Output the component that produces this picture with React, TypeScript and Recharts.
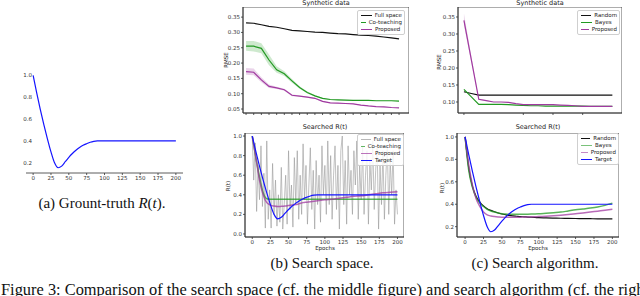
import React from "react";
import { ComposedChart, Line, Area, XAxis, YAxis, ReferenceArea } from "recharts";

const FONT = "'DejaVu Sans', sans-serif";
const SERIF = "'Liberation Serif', 'Times New Roman', serif";

const BLACK = "#111111";
const GREEN = "#229922";
const PURPLE = "#a03aa0";
const BLUE = "#1414ff";
const GRAY = "#9a9a9a";

// epochs for the R(t) curves
const epochsR = [0, 5, 10, 15, 20, 25, 30, 35, 40, 45, 50, 55, 60, 65, 70, 75, 80, 85, 90, 95, 100, 110, 120, 130, 140, 150, 160, 170, 180, 190, 200];
const target = [1.0, 0.84, 0.69, 0.55, 0.42, 0.3, 0.2, 0.155, 0.17, 0.21, 0.25, 0.285, 0.315, 0.34, 0.36, 0.375, 0.388, 0.396, 0.4, 0.4, 0.4, 0.4, 0.4, 0.4, 0.4, 0.4, 0.4, 0.4, 0.4, 0.4, 0.4];
const coteachR = [1.0, 0.78, 0.58, 0.42, 0.36, 0.355, 0.355, 0.355, 0.355, 0.355, 0.355, 0.355, 0.355, 0.355, 0.355, 0.355, 0.355, 0.355, 0.355, 0.355, 0.355, 0.355, 0.355, 0.355, 0.355, 0.355, 0.355, 0.355, 0.355, 0.355, 0.355];
const proposedR = [1.0, 0.78, 0.55, 0.4, 0.32, 0.295, 0.285, 0.28, 0.282, 0.285, 0.29, 0.295, 0.3, 0.31, 0.32, 0.325, 0.33, 0.335, 0.34, 0.345, 0.35, 0.355, 0.365, 0.375, 0.385, 0.39, 0.4, 0.41, 0.42, 0.425, 0.43];
const randomR = [1.0, 0.72, 0.56, 0.47, 0.42, 0.385, 0.36, 0.345, 0.333, 0.322, 0.313, 0.306, 0.3, 0.296, 0.293, 0.29, 0.288, 0.286, 0.284, 0.282, 0.28, 0.278, 0.276, 0.275, 0.274, 0.273, 0.272, 0.271, 0.27, 0.27, 0.27];
const bayesR = [1.0, 0.7, 0.55, 0.46, 0.41, 0.38, 0.355, 0.34, 0.33, 0.322, 0.316, 0.313, 0.311, 0.31, 0.31, 0.31, 0.31, 0.311, 0.312, 0.313, 0.315, 0.32, 0.325, 0.33, 0.34, 0.35, 0.358, 0.366, 0.376, 0.39, 0.41];
const proposedAlgR = [1.0, 0.75, 0.57, 0.45, 0.38, 0.33, 0.305, 0.295, 0.29, 0.287, 0.285, 0.285, 0.285, 0.285, 0.285, 0.285, 0.286, 0.287, 0.288, 0.289, 0.29, 0.293, 0.297, 0.302, 0.308, 0.315, 0.322, 0.33, 0.338, 0.346, 0.355];

// full search space: a new random R(t) every two epochs
const epochs2 = [0, 2, 4, 6, 8, 10, 12, 14, 16, 18, 20, 22, 24, 26, 28, 30, 32, 34, 36, 38, 40, 42, 44, 46, 48, 50, 52, 54, 56, 58, 60, 62, 64, 66, 68, 70, 72, 74, 76, 78, 80, 82, 84, 86, 88, 90, 92, 94, 96, 98, 100, 102, 104, 106, 108, 110, 112, 114, 116, 118, 120, 122, 124, 126, 128, 130, 132, 134, 136, 138, 140, 142, 144, 146, 148, 150, 152, 154, 156, 158, 160, 162, 164, 166, 168, 170, 172, 174, 176, 178, 180, 182, 184, 186, 188, 190, 192, 194, 196, 198, 200];
const fullSpaceR = [1.0, 0.55, 0.93, 0.23, 0.7, 0.35, 0.9, 0.28, 0.62, 0.06, 0.95, 0.15, 0.45, 0.06, 0.72, 0.2, 0.55, 0.08, 0.4, 0.12, 0.68, 0.05, 0.3, 0.6, 0.1, 0.85, 0.25, 0.5, 0.07, 0.78, 0.3, 0.85, 0.15, 0.6, 0.2, 0.92, 0.35, 0.7, 0.1, 0.5, 0.88, 0.25, 0.65, 0.05, 0.75, 0.3, 0.6, 0.12, 0.9, 0.4, 0.7, 0.2, 0.95, 0.3, 0.8, 0.15, 0.6, 0.9, 0.25, 0.7, 0.05, 0.85, 1.0, 0.3, 0.75, 0.1, 0.9, 0.4, 0.65, 0.2, 0.85, 0.5, 0.95, 0.15, 0.7, 0.35, 0.9, 0.2, 0.6, 0.85, 0.1, 0.75, 0.45, 0.95, 0.25, 0.65, 0.9, 0.05, 0.7, 0.3, 0.85, 0.15, 0.6, 0.9, 0.2, 0.75, 0.4, 0.85, 0.1, 0.45, 0.2];

// RMSE on synthetic data
const epochs10 = [0, 10, 20, 30, 40, 50, 60, 70, 80, 90, 100, 110, 120, 130, 140, 150, 160, 170, 180, 190, 200];
const fullSpaceRmse = [0.331, 0.33, 0.325, 0.32, 0.317, 0.312, 0.307, 0.305, 0.303, 0.301, 0.3, 0.298, 0.296, 0.295, 0.293, 0.291, 0.29, 0.288, 0.285, 0.282, 0.279];
const coteachRmse = [0.255, 0.255, 0.248, 0.21, 0.178, 0.165, 0.142, 0.12, 0.104, 0.093, 0.085, 0.081, 0.08, 0.079, 0.078, 0.078, 0.078, 0.077, 0.077, 0.077, 0.076];
const coteachLo = [0.24, 0.238, 0.232, 0.193, 0.168, 0.158, 0.136, 0.116, 0.101, 0.091, 0.083, 0.08, 0.079, 0.078, 0.077, 0.077, 0.077, 0.076, 0.076, 0.076, 0.075];
const coteachHi = [0.272, 0.272, 0.265, 0.228, 0.19, 0.173, 0.148, 0.124, 0.107, 0.096, 0.087, 0.083, 0.081, 0.08, 0.079, 0.079, 0.079, 0.078, 0.078, 0.078, 0.077];
const proposedRmse = [0.172, 0.17, 0.145, 0.124, 0.119, 0.113, 0.095, 0.092, 0.089, 0.085, 0.075, 0.07, 0.069, 0.068, 0.067, 0.063, 0.06, 0.058, 0.057, 0.055, 0.054];
const proposedLo = [0.162, 0.16, 0.137, 0.119, 0.115, 0.11, 0.092, 0.09, 0.087, 0.083, 0.073, 0.069, 0.068, 0.067, 0.066, 0.062, 0.059, 0.057, 0.056, 0.054, 0.053];
const proposedHi = [0.184, 0.182, 0.154, 0.13, 0.123, 0.116, 0.098, 0.094, 0.091, 0.087, 0.077, 0.071, 0.07, 0.069, 0.068, 0.064, 0.061, 0.059, 0.058, 0.056, 0.055];

const randomRmse = [0.13, 0.125, 0.12, 0.12, 0.12, 0.12, 0.12, 0.12, 0.12, 0.12, 0.12, 0.12, 0.12, 0.12, 0.12, 0.12, 0.12, 0.12, 0.12, 0.12, 0.12];
const bayesRmse = [0.137, 0.115, 0.093, 0.093, 0.093, 0.093, 0.092, 0.091, 0.09, 0.089, 0.089, 0.088, 0.088, 0.088, 0.088, 0.088, 0.088, 0.087, 0.087, 0.087, 0.087];
const proposedAlgRmse = [0.34, 0.224, 0.108, 0.104, 0.1, 0.1, 0.099, 0.095, 0.092, 0.092, 0.092, 0.092, 0.092, 0.091, 0.09, 0.089, 0.087, 0.087, 0.087, 0.087, 0.087];
const proposedAlgLo = [0.325, 0.216, 0.106, 0.103, 0.1, 0.1, 0.099, 0.095, 0.092, 0.092, 0.092, 0.092, 0.092, 0.091, 0.09, 0.089, 0.087, 0.087, 0.087, 0.087, 0.087];
const proposedAlgHi = [0.36, 0.234, 0.11, 0.105, 0.1, 0.1, 0.099, 0.095, 0.092, 0.092, 0.092, 0.092, 0.092, 0.091, 0.09, 0.089, 0.087, 0.087, 0.087, 0.087, 0.087];

const epochTicks = [0, 25, 50, 75, 100, 125, 150, 175, 200];

function toRows(xs: number[], ys: number[]) {
  return xs.map((x, i) => ({ x, y: ys[i] }));
}
function toBand(xs: number[], lo: number[], hi: number[]) {
  return xs.map((x, i) => ({ x, band: [lo[i], hi[i]] }));
}

const tickStyle = { fontSize: 5.5, fill: "#333", fontFamily: FONT };

interface PanelProps {
  left: number;
  top: number;
  width: number;
  height: number;
  xDomain: [number, number];
  yDomain: [number, number];
  xTicks: number[];
  yTicks: number[];
  yDigits: number;
  xLabels?: boolean;
  frame?: boolean;
  yShift?: number;
  children: React.ReactNode;
}

function Panel(p: PanelProps) {
  const yw = 22;
  const xh = 12;
  return (
    <div style={{ position: "absolute", left: p.left - yw, top: p.top }}>
      <ComposedChart width={p.width + yw} height={p.height + xh} margin={{ top: 0, right: 0, bottom: 0, left: 0 }}>
        <XAxis
          dataKey="x"
          type="number"
          domain={p.xDomain}
          allowDataOverflow
          ticks={p.xTicks}
          height={xh}
          tickSize={2}
          tickMargin={1}
          stroke="#333"
          strokeWidth={0.8}
          tick={tickStyle}
          tickFormatter={(v: number) => (p.xLabels ? String(v) : "")}
        />
        <YAxis
          type="number"
          domain={p.yDomain}
          allowDataOverflow
          ticks={p.yTicks}
          width={yw}
          tickSize={2}
          tickMargin={1}
          axisLine={!!p.frame}
          tickLine={!!p.frame}
          stroke="#333"
          strokeWidth={0.8}
          tick={{ ...tickStyle, dx: p.yShift || 0 }}
          tickFormatter={(v: number) => v.toFixed(p.yDigits)}
        />
        {p.children}
        {p.frame && (
          <ReferenceArea
            x1={p.xDomain[0]}
            x2={p.xDomain[1]}
            y1={p.yDomain[0]}
            y2={p.yDomain[1]}
            fill="none"
            fillOpacity={0}
            stroke="#333"
            strokeWidth={0.8}
            ifOverflow="visible"
          />
        )}
      </ComposedChart>
    </div>
  );
}

function line(data: { x: number; y: number }[], color: string, width = 1.2, opacity = 1, curve: "monotone" | "linear" = "monotone") {
  return (
    <Line
      data={data}
      dataKey="y"
      type={curve}
      stroke={color}
      strokeWidth={width}
      strokeOpacity={opacity}
      dot={false}
      isAnimationActive={false}
    />
  );
}

function band(data: { x: number; band: number[] }[], color: string) {
  return (
    <Area
      data={data}
      dataKey="band"
      type="linear"
      stroke="none"
      fill={color}
      fillOpacity={0.22}
      dot={false}
      activeDot={false}
      isAnimationActive={false}
    />
  );
}

interface LegendItem {
  label: string;
  color: string;
  opacity?: number;
}

function LegendBox({ left, top, width, items }: { left: number; top: number; width: number; items: LegendItem[] }) {
  return (
    <div
      style={{
        position: "absolute",
        left,
        top,
        width,
        boxSizing: "border-box",
        padding: "1px 2px",
        border: "0.6px solid #cfcfcf",
        borderRadius: 2,
        background: "rgba(255,255,255,0.85)",
        fontFamily: FONT,
        fontSize: 5.5,
        lineHeight: "7px",
        color: "#222",
      }}
    >
      {items.map((it) => (
        <div key={it.label} style={{ display: "flex", alignItems: "center", whiteSpace: "nowrap" }}>
          <span
            style={{
              display: "inline-block",
              width: 11,
              height: 0,
              borderTop: `1.5px solid ${it.color}`,
              opacity: it.opacity ?? 1,
              marginRight: 3,
              marginLeft: 1,
            }}
          />
          {it.label}
        </div>
      ))}
    </div>
  );
}

function Label({ x, y, text, size = 6.5, rotate = false }: { x: number; y: number; text: string; size?: number; rotate?: boolean }) {
  return (
    <div
      style={{
        position: "absolute",
        left: x,
        top: y,
        transform: `translate(-50%, -50%)${rotate ? " rotate(-90deg)" : ""}`,
        fontFamily: FONT,
        fontSize: size,
        color: "#222222",
        whiteSpace: "nowrap",
      }}
    >
      {text}
    </div>
  );
}

function Caption({ x, y, children, size = 15 }: { x: number; y: number; children: React.ReactNode; size?: number }) {
  return (
    <div
      style={{
        position: "absolute",
        left: x,
        top: y,
        transform: "translate(-50%, -50%)",
        fontFamily: SERIF,
        fontSize: size,
        color: "#111",
        whiteSpace: "nowrap",
      }}
    >
      {children}
    </div>
  );
}

export default function App() {
  const rT = toRows(epochsR, target);
  return (
    <div style={{ position: "absolute", left: 0, top: 0, width: 640, height: 296, background: "#fff", overflow: "hidden" }}>
      {/* (a) ground truth */}
      <Panel left={26} top={71} width={157} height={102} xDomain={[-10, 210]} yDomain={[0.107, 1.04]} xTicks={epochTicks} yTicks={[0.2, 0.4, 0.6, 0.8, 1.0]} yDigits={1} xLabels yShift={9}>
        {line(rT, BLUE, 1.2)}
      </Panel>
      <Caption x={102} y={203}>
        (a) Grount-truth <i>R</i>(<i>t</i>).
      </Caption>

      {/* (b) search space, RMSE */}
      <Panel left={243} top={7} width={166} height={106} xDomain={[-4, 213]} yDomain={[0.037, 0.383]} xTicks={[0, 10, 20, 30, 40, 50, 60, 70, 80, 90, 100, 110, 120, 130, 140, 150, 160, 170, 180, 190, 200]} yTicks={[0.05, 0.1, 0.15, 0.2, 0.25, 0.3, 0.35]} yDigits={2} frame>
        {band(toBand(epochs10, coteachLo, coteachHi), GREEN)}
        {band(toBand(epochs10, proposedLo, proposedHi), PURPLE)}
        {line(toRows(epochs10, fullSpaceRmse), BLACK, 1.2, 1, "linear")}
        {line(toRows(epochs10, coteachRmse), GREEN, 1.2, 1, "linear")}
        {line(toRows(epochs10, proposedRmse), PURPLE, 1.2, 1, "linear")}
      </Panel>
      <Label x={326} y={3} text="Synthetic data" />
      <Label x={226} y={60} text="RMSE" size={5.5} rotate />
      <LegendBox left={357} top={10} width={48} items={[{ label: "Full space", color: BLACK }, { label: "Co-teaching", color: GREEN }, { label: "Proposed", color: PURPLE }]} />

      {/* (b) search space, R(t) */}
      <Panel left={245} top={133} width={159} height={104} xDomain={[-10, 209]} yDomain={[-0.031, 1.031]} xTicks={epochTicks} yTicks={[0, 0.2, 0.4, 0.6, 0.8, 1.0]} yDigits={1} xLabels frame>
        {line(toRows(epochs2, fullSpaceR), GRAY, 1, 0.6, "linear")}
        {line(toRows(epochsR, coteachR), GREEN, 1.5, 0.75)}
        {line(toRows(epochsR, proposedR), PURPLE, 1.5, 0.75)}
        {line(rT, BLUE, 1.2)}
      </Panel>
      <Label x={325} y={127} text="Searched R(t)" />
      <Label x={228} y={186} text="R(t)" size={5.5} rotate />
      <Label x={325} y={248} text="Epochs" size={5.5} />
      <LegendBox left={357} top={134} width={47} items={[{ label: "Full space", color: GRAY, opacity: 0.7 }, { label: "Co-teaching", color: GREEN, opacity: 0.7 }, { label: "Proposed", color: PURPLE, opacity: 0.7 }, { label: "Target", color: BLUE }]} />
      <Caption x={322} y={263}>(b) Search space.</Caption>

      {/* (c) search algorithm, RMSE */}
      <Panel left={458} top={7} width={164} height={106} xDomain={[-8, 213]} yDomain={[0.0676, 0.3794]} xTicks={[0, 80, 120, 160]} yTicks={[0.1, 0.15, 0.2, 0.25, 0.3, 0.35]} yDigits={2} frame>
        {band(toBand(epochs10, proposedAlgLo, proposedAlgHi), PURPLE)}
        {line(toRows(epochs10, randomRmse), BLACK, 1.2, 1, "linear")}
        {line(toRows(epochs10, bayesRmse), GREEN, 1.2, 1, "linear")}
        {line(toRows(epochs10, proposedAlgRmse), PURPLE, 1.2, 1, "linear")}
      </Panel>
      <Label x={540} y={3} text="Synthetic data" />
      <Label x={439} y={62} text="RMSE" size={5.5} rotate />
      <LegendBox left={577} top={10} width={43} items={[{ label: "Random", color: BLACK }, { label: "Bayes", color: GREEN }, { label: "Proposed", color: PURPLE }]} />

      {/* (c) search algorithm, R(t) */}
      <Panel left={457} top={133} width={162} height={104} xDomain={[-11, 209]} yDomain={[0.108, 1.035]} xTicks={epochTicks} yTicks={[0.2, 0.4, 0.6, 0.8, 1.0]} yDigits={1} xLabels frame>
        {line(toRows(epochsR, randomR), BLACK, 1.2)}
        {line(toRows(epochsR, bayesR), GREEN, 1.5, 0.75)}
        {line(toRows(epochsR, proposedAlgR), PURPLE, 1.5, 0.75)}
        {line(rT, BLUE, 1.2)}
      </Panel>
      <Label x={538} y={127} text="Searched R(t)" />
      <Label x={442} y={188} text="R(t)" size={5.5} rotate />
      <Label x={538} y={248} text="Epochs" size={5.5} />
      <LegendBox left={577} top={133} width={42} items={[{ label: "Random", color: BLACK }, { label: "Bayes", color: GREEN, opacity: 0.6 }, { label: "Proposed", color: PURPLE, opacity: 0.6 }, { label: "Target", color: BLUE }]} />
      <Caption x={535} y={263}>(c) Search algorithm.</Caption>

      <div style={{ position: "absolute", left: 1, top: 280, fontFamily: SERIF, fontSize: 16.4, color: "#111", whiteSpace: "nowrap" }}>
        Figure 3: Comparison of the search space (cf. the middle figure) and search algorithm (cf. the right figure).
      </div>
    </div>
  );
}
